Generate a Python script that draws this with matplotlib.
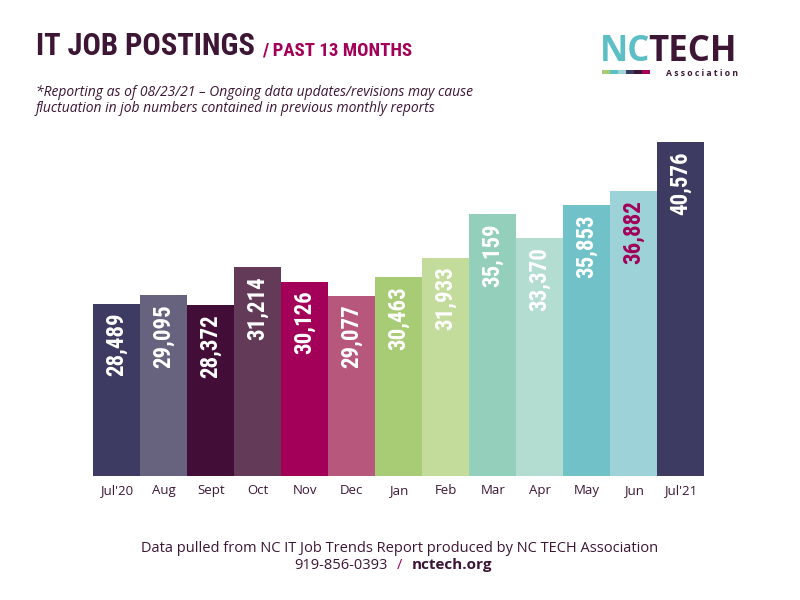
import matplotlib
matplotlib.use('Agg')
import matplotlib.pyplot as plt
import matplotlib.font_manager as fm
from matplotlib.patches import Rectangle
from matplotlib.transforms import offset_copy
import os


def pick_narrow():
    cands = [('Roboto Condensed', 'normal'), ('Liberation Sans Narrow', 'normal'),
             ('Noto Sans', 'condensed'), ('Roboto', 'condensed'),
             ('DejaVu Sans', 'condensed')]
    for fam, st in cands:
        try:
            p = fm.findfont(fm.FontProperties(family=fam, stretch=st, weight='bold'),
                            fallback_to_default=False)
        except Exception:
            continue
        b = os.path.basename(p).lower()
        if 'cond' in b or 'narrow' in b:
            return fam, st
    return 'Roboto', 'normal'


NARROW, STRETCH = pick_narrow()
BODY = 'Open Sans'

PLUM = "#3d1636"
MAGENTA = "#a3005a"
TEAL = "#5cbfc5"

months = ["Jul'20", "Aug", "Sept", "Oct", "Nov", "Dec", "Jan", "Feb",
          "Mar", "Apr", "May", "Jun", "Jul'21"]
postings = [28489, 29095, 28372, 31214, 30126, 29077, 30463, 31933,
            35159, 33370, 35853, 36882, 40576]
bar_colors = ["#3d3b61", "#67637f", "#420d36", "#633a58", "#a3005a", "#b8577c",
              "#a8cc75", "#c3dc9c", "#94cfbc", "#b3ddd0", "#70c2c8", "#9dd2d8",
              "#3d3b61"]
label_colors = ["white"] * 11 + [MAGENTA, "white"]

fig = plt.figure(figsize=(8, 6), dpi=100, facecolor='white')
rend = fig.canvas.get_renderer()

# chart area
ax = fig.add_axes([0.1166, 0.2072, 0.7638, 0.5595])
x = range(len(months))
ax.bar(x, postings, width=1.0, color=bar_colors, linewidth=0)
ax.set_xlim(-0.5, len(months) - 0.5)
ax.set_ylim(15600, 40737)
for s in ax.spines.values():
    s.set_visible(False)
ax.set_yticks([])
ax.set_xticks(list(x))
ax.set_xticklabels(months, fontsize=9.5, color=PLUM, family=BODY)
ax.tick_params(axis='x', length=0, pad=6)

# rotated value labels hanging from the top of each bar
for i, (v, c) in enumerate(zip(postings, label_colors)):
    tr = offset_copy(ax.transData, fig=fig, x=0, y=-9, units='dots')
    ax.text(i, v, f"{v:,}", transform=tr, rotation=90, ha='center', va='top',
            color=c, fontsize=16.5, fontweight='bold', family=NARROW,
            fontstretch=STRETCH)

# title
t1 = fig.text(0.045, 0.908, "IT JOB POSTINGS", color=PLUM, fontsize=22,
              fontweight='bold', family=NARROW, fontstretch=STRETCH, va='baseline')
x_end = fig.transFigure.inverted().transform(
    (t1.get_window_extent(rend).x1, 0))[0]
fig.text(x_end + 0.009, 0.908, "/ PAST 13 MONTHS", color=MAGENTA, fontsize=13.5,
         fontweight='bold', family=NARROW, fontstretch=STRETCH, va='baseline')
fig.text(0.045, 0.833,
         "*Reporting as of 08/23/21 \u2013 Ongoing data updates/revisions may cause\n"
         "fluctuation in job numbers contained in previous monthly reports",
         color=PLUM, fontsize=10, style='italic', family=BODY, va='center',
         linespacing=1.1)

# logo
n1 = fig.text(0.750, 0.899, "NC", color=TEAL, fontsize=25, fontweight='bold',
              family=BODY, va='baseline')
nx = fig.transFigure.inverted().transform((n1.get_window_extent(rend).x1, 0))[0]
fig.text(nx - 0.003, 0.899, "TECH", color=PLUM, fontsize=25, fontweight='bold',
         family=BODY, va='baseline')
fig.text(0.9225, 0.873, "A s s o c i a t i o n", color=PLUM, fontsize=6.2,
         fontweight='bold', family=BODY, ha='right', va='baseline')
seg_cols = ["#a8cc75", TEAL, "#9dd2d8", "#3d3b61", PLUM, MAGENTA]
for k, c in enumerate(seg_cols):
    fig.add_artist(Rectangle((0.7525 + k * 0.0101, 0.877), 0.0101, 0.0065,
                             transform=fig.transFigure, color=c, lw=0))

# footer
fig.text(0.5, 0.085,
         "Data pulled from NC IT Job Trends Report produced by NC TECH Association",
         ha='center', va='center', color=PLUM, fontsize=10.5, family=BODY,
         fontweight='medium')
fig.text(0.485, 0.058, "919-856-0393", ha='right', va='center', color=PLUM,
         fontsize=10.5, family=BODY)
fig.text(0.5, 0.058, "/", ha='center', va='center', color=MAGENTA,
         fontsize=10.5, family=BODY)
fig.text(0.515, 0.058, "nctech.org", ha='left', va='center', color=PLUM,
         fontsize=11, family=BODY, fontweight='bold')

fig.savefig('out.png', dpi=100, facecolor='white')
